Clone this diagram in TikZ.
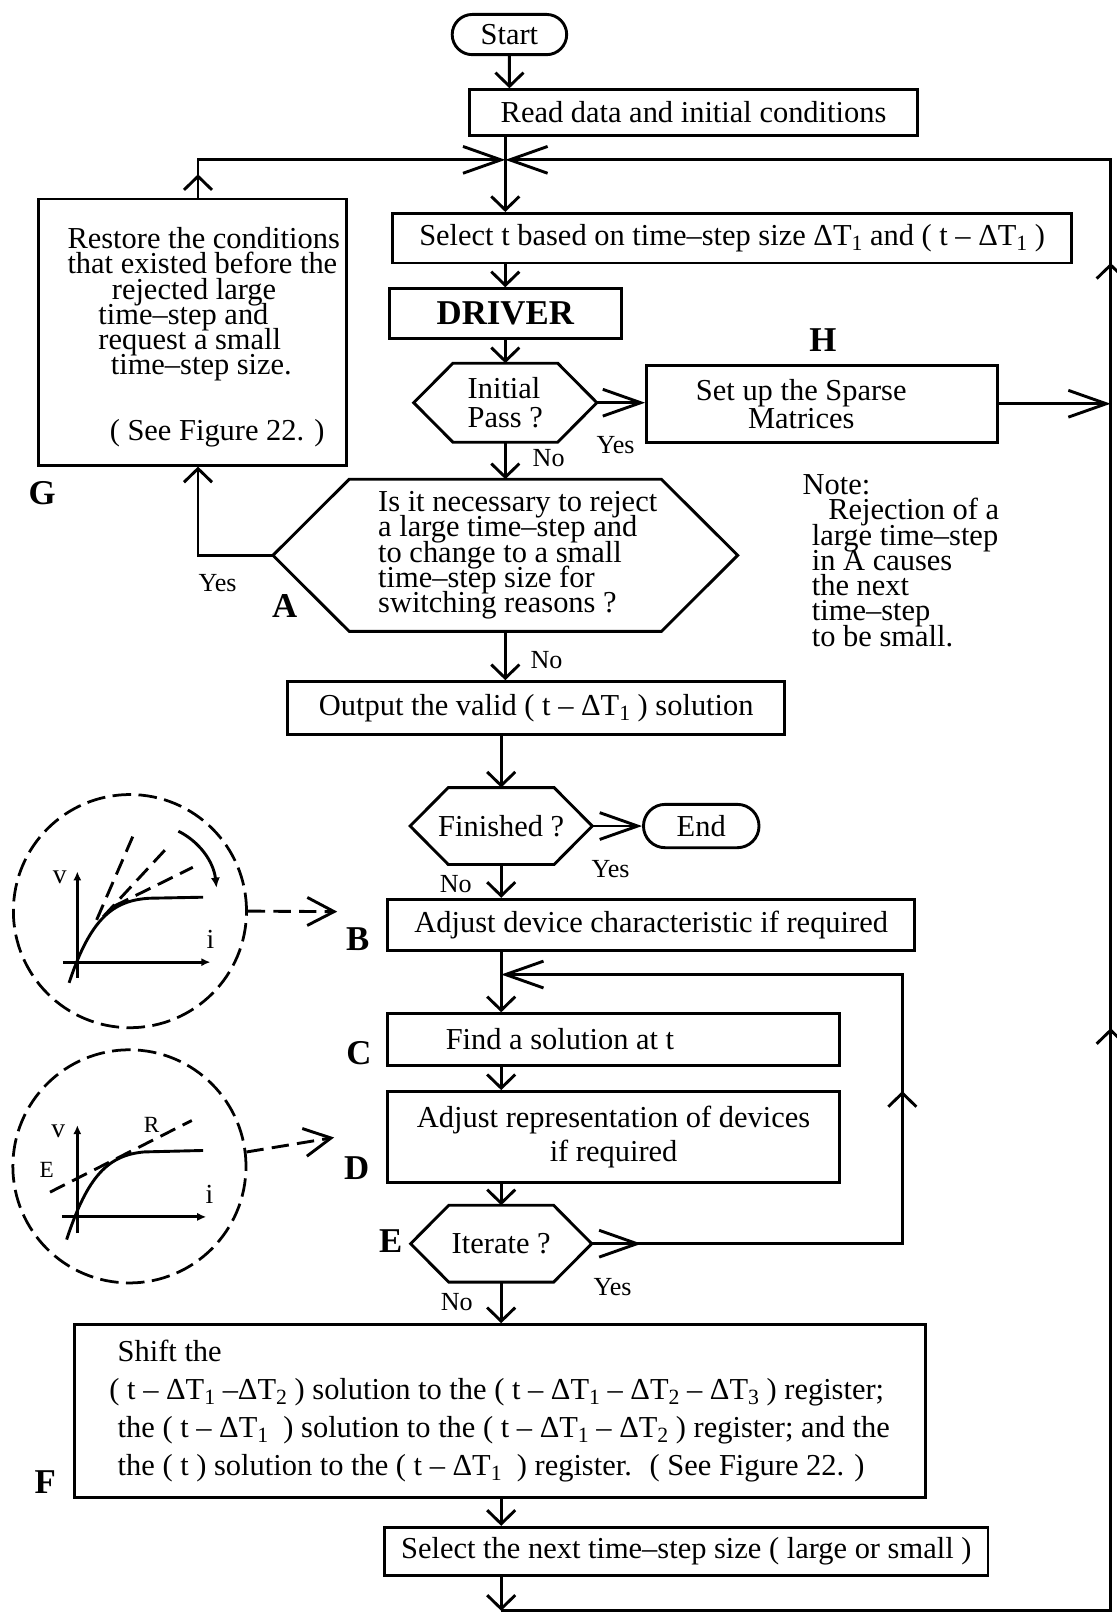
\documentclass[tikz,border=0pt]{standalone}
\usepackage{fontspec}
\setmainfont{Liberation Serif}
\usetikzlibrary{arrows.meta, positioning}
\usetikzlibrary{shapes.misc}

\newcommand{\dT}[1]{ΔT\raisebox{-0.12cm}{\fontsize{15}{15}\selectfont #1}}
\newcommand{\pad}[1]{\makebox[#1]{}}
\setlength{\lineskiplimit}{-100pt}

\begin{document}
\begin{tikzpicture}[
		x=0.025cm, y=-0.025cm,
		every node/.style={font=\fontsize{21}{17.4}\selectfont},
		block/.style={
			rectangle,
			draw,
			line width=2pt,
			align=center,
			inner sep=0pt
		},
		terminal/.style={
			rounded rectangle,
			draw,
			line width=2pt,
			inner sep=0pt
		},
		decision/.style={
			rectangle,
			align=left,
			inner sep=0pt
		},
		outline/.style={
			line width=2pt,
			line join=miter
		},
		varrow/.style={
			-{Straight Barb[length=0.33cm, width=0.68cm]},
			line width=2pt
		},
		harrow/.style={
			-{Straight Barb[length=0.92cm, width=0.65cm]},
			line width=2pt
		},
		dasharrow/.style={
			-{Straight Barb[length=0.65cm, width=0.68cm]},
			line width=2pt,
			dash pattern=on 0.42cm off 0.2cm
		},
		blob/.style={
			circle,
			draw,
			line width=1.9pt,
			dash pattern=on 0.45cm off 0.18cm,
			minimum size=5.65cm,
			inner sep=0pt
		},
		curve/.style={line width=2pt},
		tag/.style={font=\fontsize{24}{24}\selectfont\bfseries},
		yn/.style={font=\fontsize{18}{18}\selectfont},
		small/.style={font=\fontsize{19}{19}\selectfont, inner sep=0pt}
		]
		
		\useasboundingbox (0,0) rectangle (1083,1568);
		
		% Nodes
		\node[terminal, minimum width=2.775cm, minimum height=0.975cm] (start) at (494,33.5) {Start};
		
		\node[block, minimum width=10.875cm, minimum height=1.1cm] (read) at (672.5,109) {Read data and initial conditions};
		
		\node[block, minimum width=16.45cm, minimum height=1.2cm] (select) at (710,231) {Select t based on time--step size \dT{1} and ( t -- \dT{1} )};
		
		\node[block, minimum width=5.625cm, minimum height=1.2cm, font=\fontsize{24}{24}\selectfont\bfseries] (driver) at (490,304) {DRIVER};
		
		\node[decision, minimum width=4.425cm, minimum height=1.9cm, font=\fontsize{21}{19.9}\selectfont] (initial) at (490,390.5) {Initial\\Pass ?};
		
		\node[block, minimum width=8.5cm, minimum height=1.875cm, font=\fontsize{21}{19.2}\selectfont] (sparse) at (797,391.5) {Set up the Sparse\pad{1cm}\\Matrices\pad{1cm}};
		
		\node[block, align=left, minimum width=7.475cm, minimum height=6.45cm] (restore) at (186.5,322) {\rule{0pt}{0.76cm}\pad{0.55cm}Restore the conditions\\
			\pad{0.55cm}that existed before the\\
			\pad{1.625cm}rejected large\\
			\pad{1.3cm}time--step and\\
			\pad{1.3cm}request a small\\
			\pad{1.6cm}time--step size.\\[0.98cm]
			\pad{1.575cm}( See Figure 22. )};
		
		\node[decision, minimum width=11.25cm, minimum height=3.675cm] (reject) at (490,538.5) {\pad{0.6cm}Is it necessary to reject\\
			\pad{0.6cm}a large time--step and\\
			\pad{0.6cm}to change to a small\\
			\pad{0.6cm}time--step size for\\
			\pad{0.6cm}switching reasons ?};
		
		\node[block, minimum width=12.05cm, minimum height=1.275cm] (output) at (520,686.5) {Output the valid ( t -- \dT{1} ) solution};
		
		\node[decision, minimum width=4.4cm, minimum height=1.85cm] (finished) at (486,801) {Finished ?};
		
		\node[terminal, minimum width=2.8cm, minimum height=1.05cm] (endnode) at (680,801) {End};
		
		\node[block, minimum width=12.775cm, minimum height=1.25cm] (adjdev) at (631.5,897) {Adjust device characteristic if required};
		
		\node[block, minimum width=10.95cm, minimum height=1.25cm] (find) at (595,1008) {Find a solution at t\pad{2.6cm}};
		
		\node[block, minimum width=10.95cm, minimum height=2.2cm, font=\fontsize{21}{23.4}\selectfont] (adjrep) at (595,1102.5) {Adjust representation of devices\\if required};
		
		\node[decision, minimum width=4.375cm, minimum height=1.85cm] (iterate) at (486,1206) {Iterate ?};
		
		\node[block, align=left, minimum width=20.625cm, minimum height=4.2cm, font=\fontsize{21}{26.2}\selectfont] (shift) at (484.5,1368.5) {\pad{0.2cm}Shift the\\
			( t -- \dT{1} --\dT{2} ) solution to the ( t -- \dT{1} -- \dT{2} -- \dT{3} ) register;\\
			\pad{0.2cm}the ( t -- \dT{1} \ ) solution to the ( t -- \dT{1} -- \dT{2} ) register; and the\\
			\pad{0.2cm}the ( t ) solution to the ( t -- \dT{1} \ ) register. \ ( See Figure 22. )};
		
		\node[block, minimum width=14.625cm, minimum height=1.175cm] (nextstep) at (665.5,1504.5) {Select the next time--step size ( large or small )};
		
		\node[align=left, inner sep=0pt, anchor=north west] (note) at (778,460) {Note:\\
			\pad{0.625cm}Rejection of a\\
			\pad{0.225cm}large time--step\\
			\pad{0.225cm}in A causes\\
			\pad{0.225cm}the next\\
			\pad{0.225cm}time--step\\
			\pad{0.225cm}to be small.};
		
		% Hexagon outlines
		\foreach \nd/\ins in {initial/0.95cm, reject/1.85cm, finished/0.925cm, iterate/0.925cm}
		\draw[outline] (\nd.west) -- ([xshift=\ins]\nd.north west) -- ([xshift=-\ins]\nd.north east)
		-- (\nd.east) -- ([xshift=-\ins]\nd.south east) -- ([xshift=\ins]\nd.south west) -- cycle;
		
		% Letters
		\node[tag] (labH) at (798,330) {H};
		\node[tag] (labG) at (41,478) {G};
		\node[tag] (labA) at (276,588) {A};
		\node[tag] (labB) at (347,911) {B};
		\node[tag] (labC) at (348,1021) {C};
		\node[tag] (labD) at (346,1133) {D};
		\node[tag] (labE) at (379,1203) {E};
		\node[tag] (labF) at (44,1437) {F};
		
		% Yes / No
		\node[yn] (noInit) at (532,444) {No};
		\node[yn] (yesInit) at (597,432) {Yes};
		\node[yn] (yesRej) at (211,565) {Yes};
		\node[yn] (noRej) at (530,640) {No};
		\node[yn] (yesFin) at (592,843) {Yes};
		\node[yn] (noFin) at (442,857) {No};
		\node[yn] (yesIt) at (594,1248) {Yes};
		\node[yn] (noIt) at (443,1263) {No};
		
		% Turning points
		\coordinate (junc) at (490,155);
		\coordinate (rtop) at (1077,155);
		\coordinate (bot) at (1077,1562);
		\coordinate (rup1) at (1077,997);
		\coordinate (rup2) at (1077,255);
		\coordinate (gx) at (192,169);
		\coordinate (lpa) at (622,1206);
		\coordinate (lpc) at (875,1206);
		\coordinate (lpu) at (875,1058);
		\coordinate (lpd) at (875,945);
		\coordinate (lpj) at (486,945);
		\coordinate (bptr) at (327,884);
		\coordinate (dptr) at (324,1103);
		
		% Arrows (main flow)
		\draw[varrow] (start) -- (start |- read.north);
		\draw[varrow] (junc |- read.south) -- (junc |- select.north);
		\draw[varrow] (driver |- select.south) -- (driver);
		\draw[varrow] (driver) -- (initial);
		\draw[varrow] (initial) -- (reject);
		\draw[harrow] (initial.east) -- (initial.east -| sparse.west);
		\draw[harrow] (sparse.east) -- (sparse.east -| rtop);
		\draw[varrow] (reject.south) -- (reject.south |- output.north);
		\draw[varrow] (finished |- output.south) -- (finished);
		\draw[harrow] (finished.east) -- (finished.east -| endnode.west);
		\draw[varrow] (finished) -- (finished |- adjdev.north);
		\draw[varrow] (finished |- adjdev.south) -- (finished |- find.north);
		\draw[varrow] (finished |- find.south) -- (finished |- adjrep.north);
		\draw[varrow] (finished |- adjrep.south) -- (iterate);
		\draw[varrow] (iterate) -- (iterate |- shift.north);
		\draw[varrow] (iterate |- shift.south) -- (iterate |- nextstep.north);
		\draw[varrow] (iterate |- nextstep.south) -- (iterate |- bot);
		
		% Rejection loop through G
		\draw[varrow] (reject.west) -| (gx |- restore.south);
		\draw[varrow] (gx |- restore.north) -- (gx);
		\draw[harrow] (gx |- restore.north) |- (junc);
		
		% Loop back to the next time-step
		\draw[harrow] (iterate |- bot) -- (bot) -- (rtop) -- (junc);
		\draw[varrow] (bot) -- (rup1);
		\draw[varrow] (bot) -- (rup2);
		
		% Iteration loop
		\draw[harrow] (iterate.east) -- (lpa);
		\draw[harrow] (iterate.east) -- (lpc) -- (lpd) -- (lpj);
		\draw[varrow] (lpc) -- (lpu);
		
		% Device characteristic sketches
		\node[blob] (circB) at (126,883.5) {};
		\node[blob] (circD) at (125.5,1131) {};
		\draw[dasharrow] (circB.east) -- (bptr);
		\draw[dasharrow] (circD.7) -- (dptr);
		
		\draw[curve, -{Latex[length=0.22cm, width=0.2cm]}] (75,948) -- (75,845);
		\draw[curve, -{Latex[length=0.22cm, width=0.2cm]}] (61,933) -- (204,933);
		\draw[curve] (67,953) .. controls (88,890) and (110,873) .. (145,871) -- (197,870);
		\draw[curve, dash pattern=on 0.4cm off 0.2cm] (93.7,892) -- (131,806);
		\draw[curve, dash pattern=on 0.4cm off 0.2cm] (100,889) -- (163,821);
		\draw[curve, dash pattern=on 0.4cm off 0.2cm] (110,879) -- (187,841);
		\draw[curve, -{Latex[length=0.25cm, width=0.22cm]}] (173,806) .. controls (193,816) and (207,835) .. (210,861);
		\node[small] (vB) at (58,851) {v};
		\node[small] (iB) at (204,911) {i};
		
		\draw[curve, -{Latex[length=0.22cm, width=0.2cm]}] (75,1196) -- (75,1091);
		\draw[curve, -{Latex[length=0.22cm, width=0.2cm]}] (60,1180) -- (200,1180);
		\draw[curve] (64.6,1202) .. controls (85,1140) and (105,1120) .. (140,1117) -- (197,1115.6);
		\draw[curve, dash pattern=on 0.4cm off 0.2cm] (48.5,1156) -- (186,1086.5);
		\node[small] (vD) at (56.5,1097) {v};
		\node[small] (iD) at (203,1158) {i};
		\node[small, font=\fontsize{16}{16}\selectfont] (eD) at (45.3,1134) {E};
		\node[small, font=\fontsize{16}{16}\selectfont] (rD) at (147,1091) {R};
		
\end{tikzpicture}
\end{document}
